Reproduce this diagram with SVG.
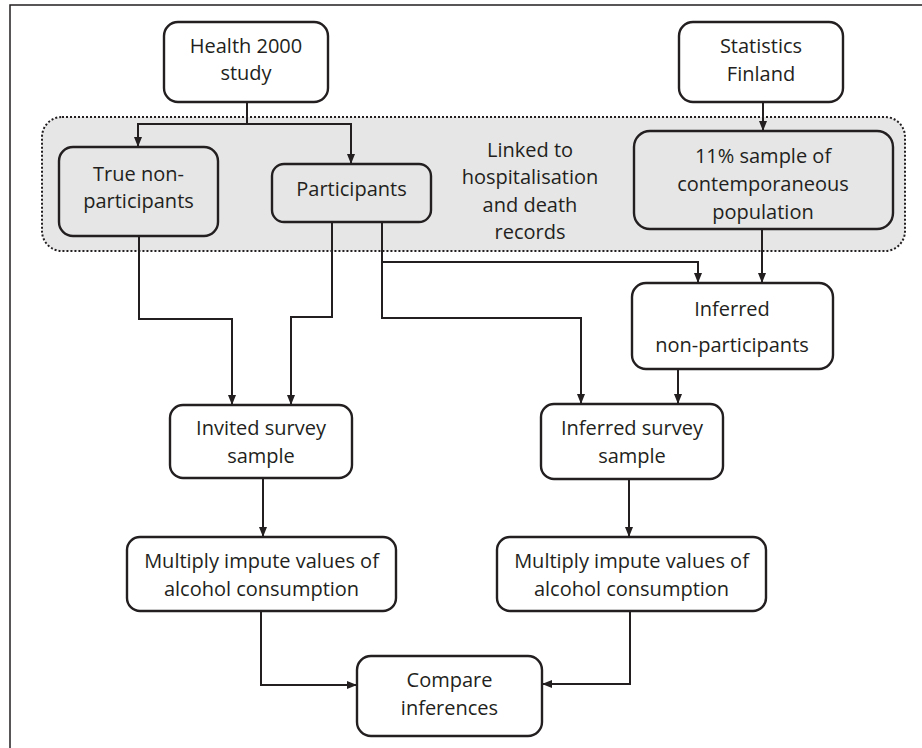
<svg xmlns="http://www.w3.org/2000/svg" width="922" height="748" viewBox="0 0 922 748">
<style>
.box{fill:#fff;stroke:#231f20;stroke-width:2.4}
.gbox{fill:#e6e6e6;stroke:#231f20;stroke-width:2.4}
.region{fill:#e6e6e6;stroke:#231f20;stroke-width:2;stroke-dasharray:2 2}
.c{fill:none;stroke:#231f20;stroke-width:2}
text{font-family:"Open Sans","Liberation Sans",sans-serif;font-size:20px;fill:#231f20;text-anchor:middle}
</style>
<defs>
<marker id="ah" markerUnits="userSpaceOnUse" markerWidth="10" markerHeight="10" viewBox="0 0 10 10" refX="10" refY="5" orient="auto">
<path d="M0,1 L10,5 L0,9 Z" fill="#231f20"/>
</marker>
</defs>
<path d="M10,748 V5 H922" fill="none" stroke="#231f20" stroke-width="1.5"/>
<g id="linked-region">
<rect class="region" x="42" y="117" width="863" height="134" rx="20"/>
<text x="530" y="157">Linked to</text>
<text x="530" y="184">hospitalisation</text>
<text x="530" y="212">and death</text>
<text x="530" y="239">records</text>
</g>
<g id="connectors">
<path class="c" d="M247,102 V124 H138 V147" marker-end="url(#ah)"/>
<path class="c" d="M247,124 H351 V164" marker-end="url(#ah)"/>
<path class="c" d="M763,102 V131" marker-end="url(#ah)"/>
<path class="c" d="M139,236 V319 H232 V405" marker-end="url(#ah)"/>
<path class="c" d="M332,222 V317 H291 V405" marker-end="url(#ah)"/>
<path class="c" d="M382,222 V262 H698 V283" marker-end="url(#ah)"/>
<path class="c" d="M382,222 V318 H581 V404" marker-end="url(#ah)"/>
<path class="c" d="M762,229 V283" marker-end="url(#ah)"/>
<path class="c" d="M678,369 V404" marker-end="url(#ah)"/>
<path class="c" d="M263,478 V537" marker-end="url(#ah)"/>
<path class="c" d="M629,479 V537" marker-end="url(#ah)"/>
<path class="c" d="M261,611 V685 H357" marker-end="url(#ah)"/>
<path class="c" d="M630,611 V684 H542" marker-end="url(#ah)"/>
</g>
<g id="health2000">
<rect class="box" x="164" y="22" width="164" height="80" rx="14"/>
<text x="246" y="53">Health 2000</text>
<text x="246" y="80">study</text>
</g>
<g id="statsfinland">
<rect class="box" x="679" y="22" width="164" height="80" rx="14"/>
<text x="761" y="53">Statistics</text>
<text x="761" y="81">Finland</text>
</g>
<g id="true-nonparticipants">
<rect class="gbox" x="59" y="147" width="159" height="89" rx="14"/>
<text x="138.5" y="181">True non-</text>
<text x="138.5" y="208">participants</text>
</g>
<g id="participants">
<rect class="gbox" x="272" y="164" width="159" height="58" rx="12"/>
<text x="351.5" y="196">Participants</text>
</g>
<g id="sample11">
<rect class="gbox" x="634" y="131" width="259" height="98" rx="16"/>
<text x="763" y="163">11% sample of</text>
<text x="763" y="191">contemporaneous</text>
<text x="763" y="219">population</text>
</g>
<g id="inferred-nonparticipants">
<rect class="box" x="632" y="283" width="201" height="86" rx="14"/>
<text x="732" y="316">Inferred</text>
<text x="732" y="352">non-participants</text>
</g>
<g id="invited-sample">
<rect class="box" x="170" y="405" width="182" height="73" rx="13"/>
<text x="261" y="435">Invited survey</text>
<text x="261" y="463">sample</text>
</g>
<g id="inferred-sample">
<rect class="box" x="541" y="404" width="182" height="75" rx="13"/>
<text x="632" y="435">Inferred survey</text>
<text x="632" y="463">sample</text>
</g>
<g id="impute-left">
<rect class="box" x="127" y="537" width="269" height="74" rx="13"/>
<text x="261.5" y="568">Multiply impute values of</text>
<text x="261.5" y="596">alcohol consumption</text>
</g>
<g id="impute-right">
<rect class="box" x="497" y="537" width="269" height="74" rx="13"/>
<text x="631.5" y="568">Multiply impute values of</text>
<text x="631.5" y="596">alcohol consumption</text>
</g>
<g id="compare">
<rect class="box" x="357" y="656" width="185" height="80" rx="14"/>
<text x="449.5" y="687">Compare</text>
<text x="449.5" y="715">inferences</text>
</g>
</svg>
